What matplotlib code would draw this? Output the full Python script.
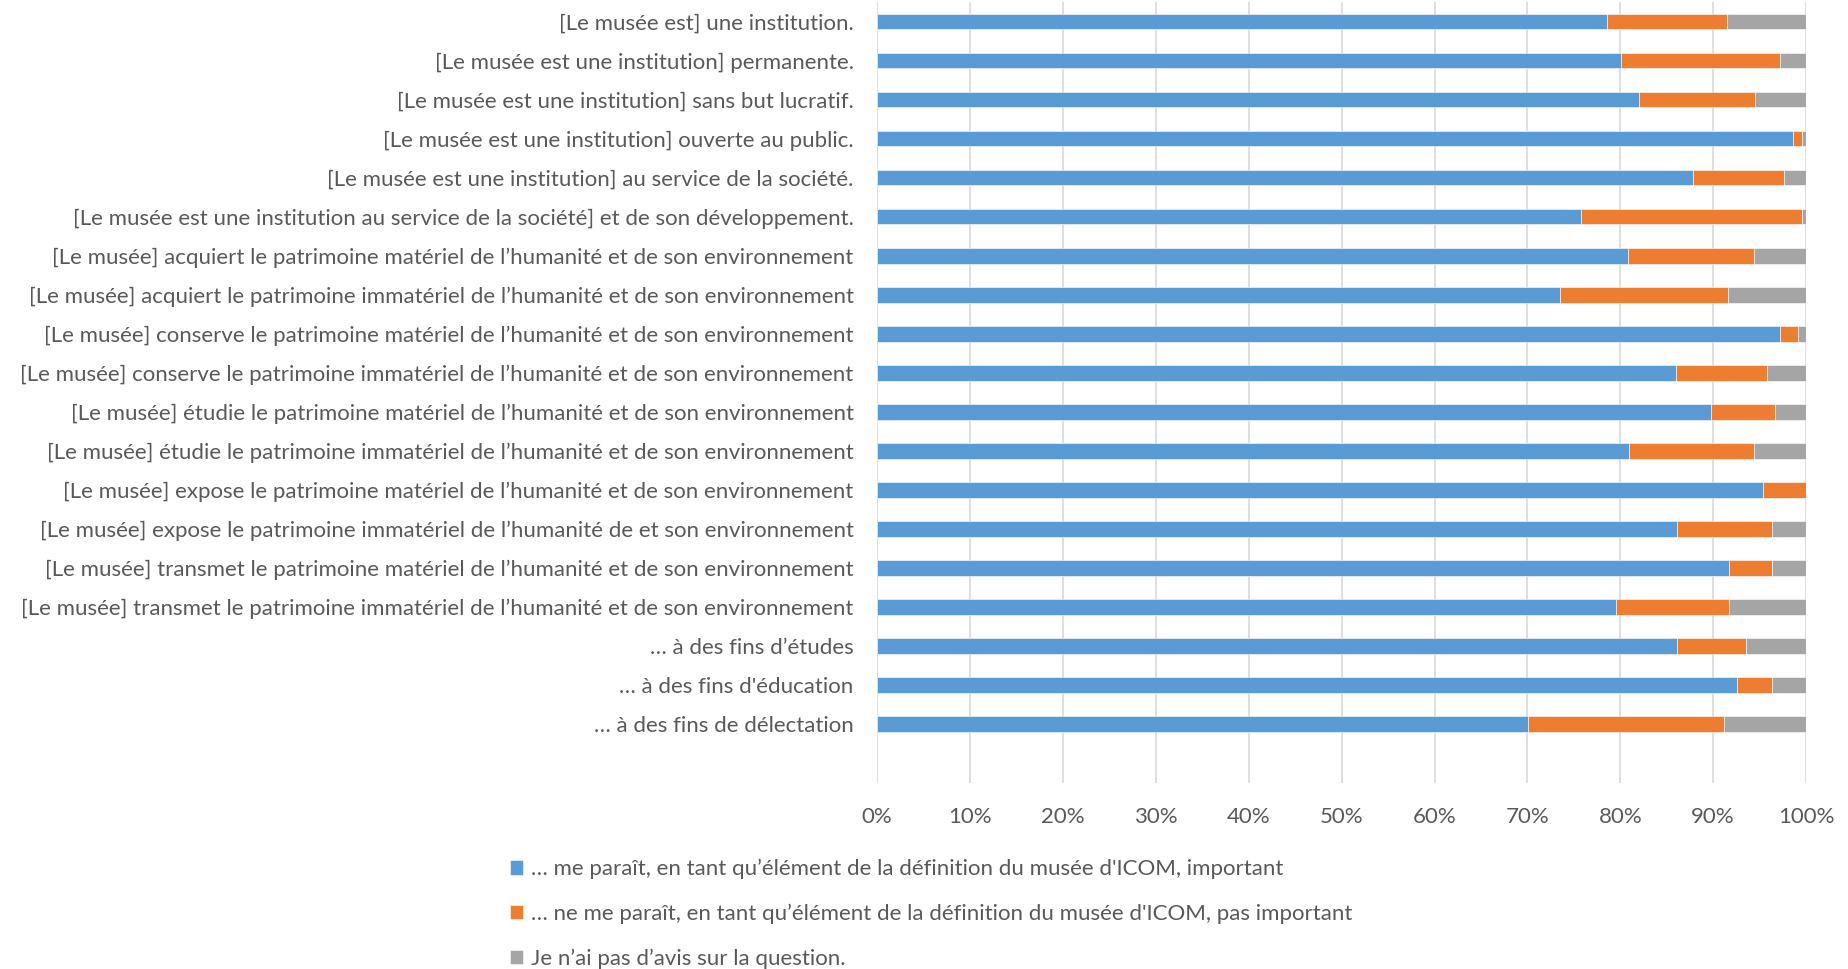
import matplotlib
matplotlib.use("Agg")
import matplotlib.pyplot as plt
from matplotlib.ticker import PercentFormatter, MultipleLocator
import numpy as np

plt.rcParams['font.family'] = ['Lato', 'DejaVu Sans']

categories = [
    "[Le musée est] une institution.",
    "[Le musée est une institution] permanente.",
    "[Le musée est une institution] sans but lucratif.",
    "[Le musée est une institution] ouverte au public.",
    "[Le musée est une institution] au service de la société.",
    "[Le musée est une institution au service de la société] et de son développement.",
    "[Le musée] acquiert le patrimoine matériel de l’humanité et de son environnement",
    "[Le musée] acquiert le patrimoine immatériel de l’humanité et de son environnement",
    "[Le musée] conserve le patrimoine matériel de l’humanité et de son environnement",
    "[Le musée] conserve le patrimoine immatériel de l’humanité et de son environnement",
    "[Le musée] étudie le patrimoine matériel de l’humanité et de son environnement",
    "[Le musée] étudie le patrimoine immatériel de l’humanité et de son environnement",
    "[Le musée] expose le patrimoine matériel de l’humanité et de son environnement",
    "[Le musée] expose le patrimoine immatériel de l’humanité de et son environnement",
    "[Le musée] transmet le patrimoine matériel de l’humanité et de son environnement",
    "[Le musée] transmet le patrimoine immatériel de l’humanité et de son environnement",
    "… à des fins d’études",
    "… à des fins d'éducation",
    "… à des fins de délectation",
]

important = [78.6, 80.1, 82.0, 98.6, 87.8, 75.8, 80.8, 73.5, 97.2, 86.0,
             89.8, 80.9, 95.4, 86.1, 91.7, 79.5, 86.1, 92.6, 70.1]
pas_important = [12.9, 17.1, 12.5, 1.0, 9.8, 23.8, 13.6, 18.1, 1.9, 9.8,
                 6.9, 13.5, 4.6, 10.2, 4.6, 12.2, 7.4, 3.7, 21.1]
sans_avis = [8.5, 2.8, 5.5, 0.4, 2.4, 0.4, 5.6, 8.4, 0.9, 4.2,
             3.3, 5.6, 0.0, 3.7, 3.7, 8.3, 6.5, 3.7, 8.8]

series_labels = [
    "… me paraît, en tant qu’élément de la définition du musée d'ICOM, important",
    "… ne me paraît, en tant qu’élément de la définition du musée d'ICOM, pas important",
    "Je n’ai pas d’avis sur la question.",
]
colors = ["#5B9BD5", "#ED7D31", "#A5A5A5"]
text_color = "#595959"
fs = 16

fig = plt.figure(figsize=(18.48, 9.69), dpi=100)
ax = fig.add_axes([0.4747, 0.192, 0.5026, 0.806])

y = np.arange(len(categories))
left = np.zeros(len(categories))
handles = []
for vals, col, lab in zip([important, pas_important, sans_avis], colors, series_labels):
    vals = np.array(vals)
    b = ax.barh(y, vals, left=left, height=0.39, color=col, label=lab,
                edgecolor="white", linewidth=0.4, zorder=3)
    handles.append(b)
    left = left + vals

ax.set_xlim(0, 100)
ax.set_ylim(len(categories) - 1 + 1.51, -0.51)
ax.set_yticks(y)
ax.set_yticklabels(categories, fontsize=fs, color=text_color)
ax.xaxis.set_major_locator(MultipleLocator(10))
ax.xaxis.set_major_formatter(PercentFormatter(decimals=0))
ax.tick_params(axis='x', labelsize=fs, labelcolor=text_color, length=0, pad=17)
ax.tick_params(axis='y', length=0, pad=17)
ax.grid(axis='x', color="#D9D9D9", linewidth=1.2, zorder=0)
for s in ax.spines.values():
    s.set_visible(False)

fig.legend(handles=handles, labels=series_labels, loc="upper left",
           bbox_to_anchor=(510 / 1848, 1 - 859 / 969), frameon=False,
           fontsize=fs, labelcolor=text_color, handlelength=0.6,
           handleheight=0.6, handletextpad=0.35, labelspacing=1.1,
           borderaxespad=0, borderpad=0)

fig.savefig("out.png", dpi=100)
